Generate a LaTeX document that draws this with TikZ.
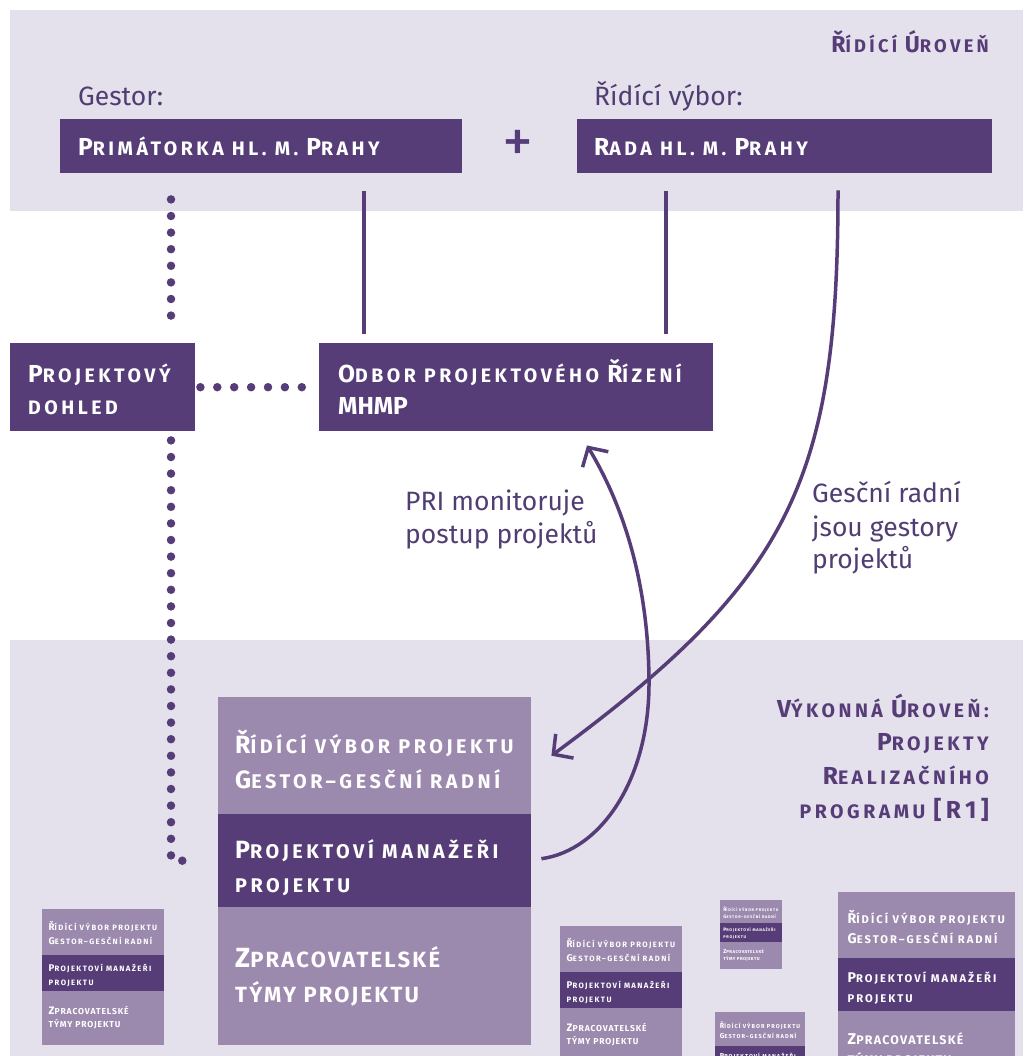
\documentclass[tikz,border=0pt]{standalone}
\usepackage{fontspec}
\setmainfont{Fira Sans}
\newfontfamily\hfont[LetterSpace=18]{Fira Sans}
\newfontfamily\hfontb[LetterSpace=10]{Fira Sans}
\usepackage{graphicx}
\usetikzlibrary{arrows.meta,calc}
\definecolor{band}{RGB}{228,224,236}
\definecolor{dpurple}{RGB}{86,61,120}
\definecolor{lpurple}{RGB}{156,137,174}
\definecolor{tpurple}{RGB}{80,62,115}
\newcommand\C[1]{\scalebox{1.26}{#1}}
\tikzset{
  bandbox/.style={fill=band, draw=none},
  darkbox/.style={fill=dpurple, draw=none, inner sep=0pt, anchor=north west},
  lightbox/.style={fill=lpurple, draw=none, inner sep=0pt, anchor=north west},
  boxtext/.style={text=white, font=\hfont\bfseries\fontsize{19.5}{23}\selectfont, anchor=base west, inner sep=0pt},
  stacktext/.style={text=white, font=\hfont\bfseries\fontsize{19.8}{23}\selectfont, anchor=base west, inner sep=0pt},
  stackbig/.style={text=white, font=\hfontb\bfseries\fontsize{22}{26}\selectfont, anchor=base west, inner sep=0pt},
  headtext/.style={text=dpurple, font=\hfont\bfseries\fontsize{18.3}{22}\selectfont, anchor=base east, inner sep=0pt},
  exectext/.style={text=dpurple, font=\hfont\bfseries\fontsize{19.5}{23}\selectfont, anchor=base east, inner sep=0pt},
  labeltext/.style={text=tpurple, font=\fontsize{26.5}{30}\selectfont, anchor=base west, inner sep=0pt},
  dotline/.style={draw=dpurple, line width=8.5pt, line cap=round, dash pattern=on 0pt off 16.6pt},
  dothline/.style={draw=dpurple, line width=8.5pt, line cap=round, dash pattern=on 0pt off 16.9pt},
  solidline/.style={draw=dpurple, line width=4.5pt},
  arrowline/.style={draw=dpurple, line width=3.5pt, -{Straight Barb[length=14pt,width=30pt]}},
}
\newcommand\stack[4]{%
  \begin{scope}[shift={(#2,#3)},scale=#4,transform shape]
    \node[lightbox, minimum width=313pt, minimum height=117pt] (#1a) at (0,0) {};
    \node[darkbox, minimum width=313pt, minimum height=93pt] (#1b) at (0,117) {};
    \node[lightbox, minimum width=313pt, minimum height=138pt] (#1c) at (0,210) {};
    \node[stacktext] (#1t1) at (17,56) {\C{Ř}ÍDÍCÍ VÝBOR PROJEKTU};
    \node[stacktext] (#1t2) at (17,91) {\C{G}ESTOR–GESČNÍ RADNÍ};
    \node[stacktext] (#1t3) at (17,161) {\C{P}ROJEKTOVÍ MANAŽEŘI};
    \node[stacktext] (#1t4) at (17,195) {PROJEKTU};
    \node[stackbig] (#1t5) at (17,270) {\C{Z}PRACOVATELSKÉ};
    \node[stackbig] (#1t6) at (17,305) {TÝMY PROJEKTU};
  \end{scope}}
\begin{document}
\begin{tikzpicture}[x=1pt,y=-1pt]
  \useasboundingbox (0,0) rectangle (1023,1056);
  \clip (0,0) rectangle (1023,1056);
  % bands
  \fill[bandbox] (10,10) rectangle (1023,211);
  \fill[bandbox] (10,640) rectangle (1023,1056);
  % top level
  \node[headtext] (ridlvl) at (989,53) {\C{Ř}ÍDÍCÍ \C{Ú}ROVEŇ};
  \node[labeltext] (gestor) at (78,106) {Gestor:};
  \node[labeltext] (rvybor) at (594,106) {Řídící výbor:};
  \node[darkbox, minimum width=402pt, minimum height=54pt] (prim) at (60,119) {};
  \node[boxtext] (primt) at (78,156) {\C{P}RIMÁTORKA HL. M. \C{P}RAHY};
  \node[text=dpurple, font=\fontsize{62}{62}\selectfont, inner sep=0pt] (plus) at (518,146) {+};
  \node[darkbox, minimum width=415pt, minimum height=54pt] (rada) at (577,119) {};
  \node[boxtext] (radat) at (594,156) {\C{R}ADA HL. M. \C{P}RAHY};
  % middle
  \node[darkbox, minimum width=185pt, minimum height=88pt] (dohled) at (10,343) {};
  \node[boxtext] (dohledt1) at (28,382) {\C{P}ROJEKTOVÝ};
  \node[boxtext] (dohledt2) at (28,414) {DOHLED};
  \node[darkbox, minimum width=394pt, minimum height=88pt] (odbor) at (319,343) {};
  \node[boxtext] (odbort1) at (338,382) {\C{O}DBOR PROJEKTOVÉHO \C{Ř}ÍZENÍ};
  \node[boxtext] (odbort2) at (338,414) {\C{M}\C{H}\C{M}\C{P}};
  \node[labeltext] (pri1) at (405,510) {PRI monitoruje};
  \node[labeltext] (pri2) at (405,543) {postup projektů};
  \node[labeltext] (ges1) at (812,502) {Gesční radní};
  \node[labeltext] (ges2) at (812,536) {jsou gestory};
  \node[labeltext] (ges3) at (812,568) {projektů};
  % executive level
  \node[exectext] (ex1) at (989,717) {\C{V}ÝKONNÁ \C{Ú}ROVEŇ:};
  \node[exectext] (ex2) at (989,750) {\C{P}ROJEKTY};
  \node[exectext] (ex3) at (989,784) {\C{R}EALIZAČNÍHO};
  \node[exectext] (ex4) at (989,818) {PROGRAMU \C{[R1]}};
  \stack{A}{218}{697}{1}
  \stack{B}{42}{909}{0.39}
  \stack{K}{560}{926}{0.39}
  \stack{D}{720}{900}{0.198}
  \stack{E}{715}{1012}{0.288}
  \stack{F}{838}{892}{0.565}
  % connectors
  \draw[dotline] ($(prim.south west)+(111,26)$) -- ($(dohled.north west)+(161,-11)$);
  \draw[dotline] ($(dohled.south west)+(161,9)$) |- ($(Ab.west)+(-21,0)$);
  \draw[dothline] ($(dohled.east)+(5,0)$) -- ($(odbor.west)+(-17,0)$);
  \draw[solidline] ($(prim.south west)+(304,18)$) -- ($(odbor.north west)+(45,-9)$);
  \draw[solidline] ($(rada.south west)+(89,18)$) -- ($(odbor.north west)+(347,-9)$);
  \draw[arrowline] ($(rada.south west)+(261,17)$) .. controls +(0,290) and +(239,-176) .. ($(Aa.east)+(20,0)$);
  \coordinate (mbend) at (649,680);
  \draw[arrowline] ($(Ab.east)+(10,-2)$) .. controls +(59,-8) and +(1,100) .. (mbend)
     .. controls +(-1,-120) and +(24,40) .. ($(odbor.south west)+(268,14)$);
\end{tikzpicture}
\end{document}
